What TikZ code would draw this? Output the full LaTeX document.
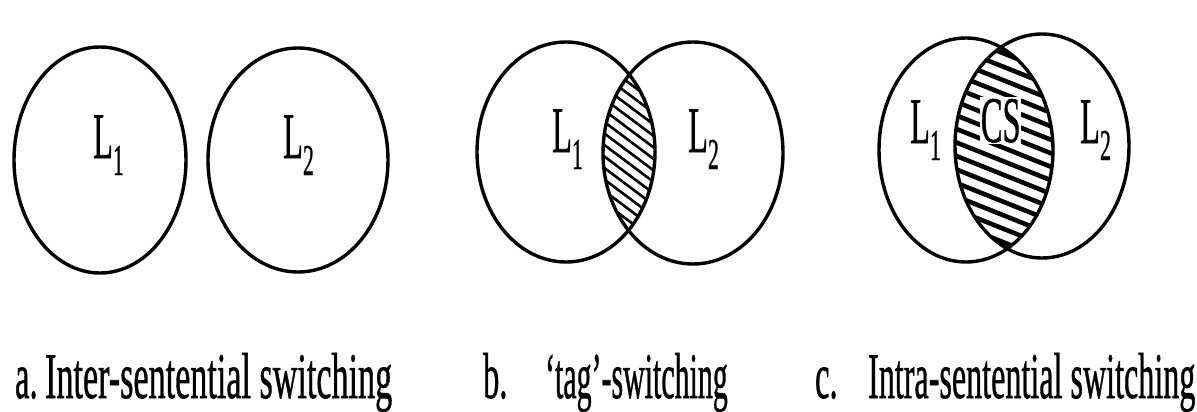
\documentclass[tikz,border=0pt]{standalone}
\usepackage{fontspec}
\setmainfont{Liberation Serif}[UprightFeatures={FakeBold=1}]
\newcommand{\bigfont}{\fontsize{65}{70}\selectfont}
\newcommand{\Lsub}[1]{L\raisebox{-17pt}{\fontsize{44}{44}\selectfont #1}}
\begin{document}
\begin{tikzpicture}[x=1pt,y=-1pt,
  circ/.style={draw=black,line width=3.4pt},
  txt/.style={inner sep=0pt,anchor=base west,font=\bigfont,xscale=0.5},
  captxt/.style={inner sep=0pt,anchor=base west,font=\bigfont},
  hatchb/.style={line width=2.6pt,black},
  hatchc/.style={line width=4.6pt,black}]
\useasboundingbox[fill=white] (0,0) rectangle (1197,412);
% ---------- a ----------
\draw[circ] (100,160) ellipse [x radius=86,y radius=113];
\draw[circ] (298,160) ellipse [x radius=90,y radius=112];
\node[txt] (aL1) at (93,158) {\Lsub{1}};
\node[txt] (aL2) at (283,158) {\Lsub{2}};
% ---------- b ----------
\begin{scope}
  \clip (566,152) ellipse [x radius=89,y radius=110];
  \clip (693,153) ellipse [x radius=90,y radius=111];
  \foreach \k in {-16,...,16}
    \draw[hatchb] (479,152+\k*11.5-150*0.75) -- (779,152+\k*11.5+150*0.75);
\end{scope}
\draw[circ] (566,152) ellipse [x radius=89,y radius=110];
\draw[circ] (693,153) ellipse [x radius=90,y radius=111];
\node[txt] (bL1) at (552,152) {\Lsub{1}};
\node[txt] (bL2) at (688,152) {\Lsub{2}};
% ---------- c ----------
\begin{scope}
  \clip (966,150) ellipse [x radius=87,y radius=112];
  \clip (1042,146) ellipse [x radius=87,y radius=112];
  \foreach \k in {-16,...,16}
    \draw[hatchc] (854,148+\k*13.5-150*0.4) -- (1154,148+\k*13.5+150*0.4);
\end{scope}
\node[txt,fill=white,inner sep=1.5pt] (cCS) at (980,142) {CS};
\draw[circ] (966,150) ellipse [x radius=87,y radius=112];
\draw[circ] (1042,146) ellipse [x radius=87,y radius=112];
\node[txt] (cL1) at (910,143) {\Lsub{1}};
\node[txt] (cL2) at (1080,143) {\Lsub{2}};
% ---------- captions ----------
\node[captxt,xscale=0.5] (la) at (15,398) {a.};
\node[captxt,xscale=0.525] (ta) at (45,398) {Inter-sentential switching};
\node[captxt,xscale=0.5] (lb) at (483,398) {b.};
\node[captxt,xscale=0.46] (tb) at (545,398) {`tag'-switching};
\node[captxt,xscale=0.5] (lc) at (815,398) {c.};
\node[captxt,xscale=0.494] (tc) at (868,398) {Intra-sentential switching};
\end{tikzpicture}
\end{document}
